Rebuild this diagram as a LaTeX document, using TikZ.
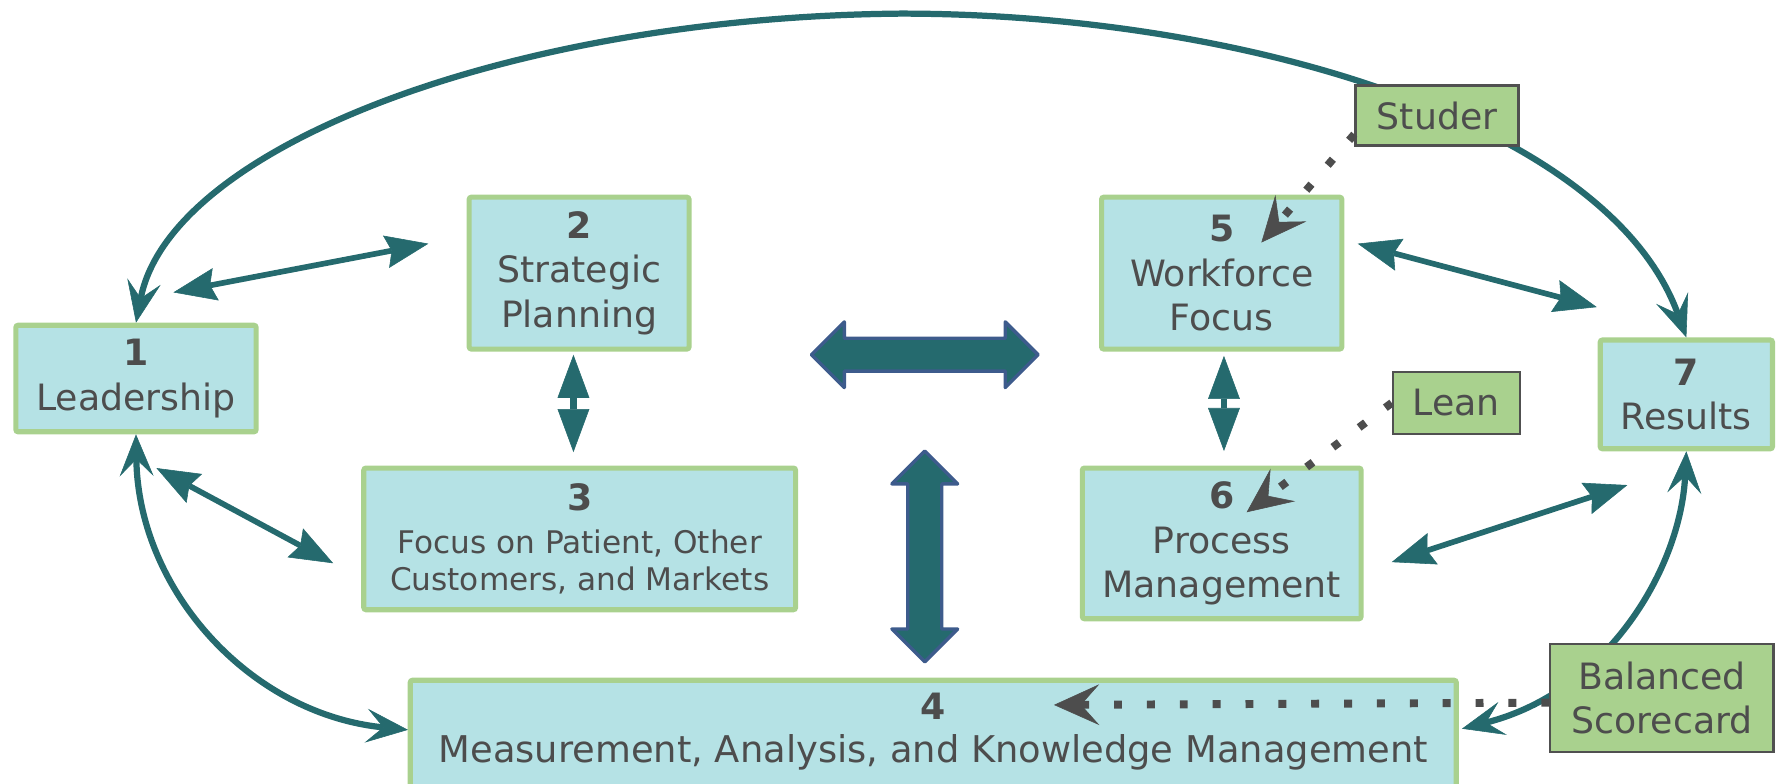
\documentclass[tikz,border=0pt]{standalone}
\usepackage{fontspec}
\setmainfont{DejaVu Sans}
\usetikzlibrary{arrows.meta,calc}
\definecolor{boxfill}{HTML}{B5E2E5}
\definecolor{boxline}{HTML}{A9D18E}
\definecolor{linkteal}{HTML}{256A6E}
\definecolor{tagfill}{HTML}{A9D18E}
\definecolor{tagline}{HTML}{505050}
\definecolor{ink}{HTML}{4D4D4D}
\definecolor{blockline}{HTML}{3D5B8C}
\begin{document}
\begin{tikzpicture}[x=1pt,y=-1pt,
  every node/.style={font=\fontsize{32}{39}\selectfont, text=ink, inner sep=0pt},
  areabox/.style={draw=boxline, line width=4.5pt, fill=boxfill, rounded corners=2pt, align=center},
  tagbox/.style={draw=tagline, line width=2pt, fill=tagfill, align=center},
  duallink/.style={draw=linkteal, line width=5pt, {Stealth[length=38pt,width=29pt,inset=5pt,line width=0.5pt]}-{Stealth[length=38pt,width=29pt,inset=5pt,line width=0.5pt]}},
  curvelink/.style={draw=linkteal, line width=5.5pt, {Stealth[length=37pt,width=30pt,inset=15pt,line width=0.5pt]}-{Stealth[length=37pt,width=30pt,inset=15pt,line width=0.5pt]}},
  twinhead/.style={draw=linkteal, line width=6pt, {Triangle[length=38pt,width=28pt,line width=0.5pt]}-{Triangle[length=38pt,width=28pt,line width=0.5pt]}},
  cue/.style={draw=ink, line width=7pt, dash pattern=on 7pt off 22pt, -{Stealth[length=40pt,width=36pt,inset=16pt,line width=0.5pt]}},
  blockarrow/.style={fill=linkteal, draw=blockline, line width=3pt, line join=round}
]
\useasboundingbox (0,0) rectangle (1568,691);
\clip (0,0) rectangle (1568,691);

% criteria boxes
\node[areabox, minimum width=212pt, minimum height=94pt] (b1) at (120,334) {{\bfseries 1}\\Leadership};
\node[areabox, minimum width=194pt, minimum height=134pt] (b2) at (511,241) {{\bfseries 2}\\Strategic\\Planning};
\node[areabox, minimum width=381pt, minimum height=125pt] (b3) at (511.5,475.5)
  {{\bfseries 3}\\[-1pt]{\fontsize{27.5}{32}\selectfont Focus on Patient, Other}\\[-7pt]{\fontsize{27.5}{32}\selectfont Customers, and Markets}};
\node[areabox, minimum width=923pt, minimum height=150pt, anchor=north] (b4) at (823.5,598) {};
\node[anchor=north, align=center] (b4t) at (823.5,611) {{\bfseries 4}\\[-1pt]{\fontsize{32.5}{39}\selectfont Measurement, Analysis, and Knowledge Management}};
\node[areabox, minimum width=212pt, minimum height=134pt] (b5) at (1078,241) {{\bfseries 5}\\Workforce\\Focus};
\node[areabox, minimum width=246pt, minimum height=133pt] (b6) at (1078,479.5) {{\bfseries 6}\\[1pt]Process\\Management};
\node[areabox, minimum width=152pt, minimum height=96pt] (b7) at (1488,348) {{\bfseries 7}\\Results};

% free ends of the straight links
\coordinate (e12a) at (153,258);  \coordinate (e12b) at (378,215);
\coordinate (e13a) at (138,413);  \coordinate (e13b) at (294,497);
\coordinate (e57a) at (1198,215); \coordinate (e57b) at (1409,271);
\coordinate (e67a) at (1228,496); \coordinate (e67b) at (1436,428);
\coordinate (v23a) at (506,313);  \coordinate (v23b) at (506,399);
\coordinate (v56a) at (1080,314); \coordinate (v56b) at (1080,398);
\coordinate (e14) at (360,644);   \coordinate (e47) at (1290,643);

% straight two-way links
\draw[duallink] (e12a) -- (e12b);
\draw[duallink] (e13a) -- (e13b);
\draw[duallink] (e57a) -- (e57b);
\draw[duallink] (e67a) -- (e67b);
\draw[twinhead] (v23a) -- (v23b);
\draw[twinhead] (v56a) -- (v56b);

% curved links
\draw[curvelink] (b1.north) .. controls (150,130) and (450,15) .. (795,12)
                 .. controls (1100,12) and (1420,110) .. (b7.north);
\draw[curvelink] (b1.south) .. controls (122,520) and (220,630) .. (e14);
\draw[curvelink] (b7.south) .. controls (1483,500) and (1420,610) .. (e47);

% central block arrows
\path[blockarrow] (716,313) -- (745,284) -- (745,298.5) -- (887,298.5) -- (887,284)
  -- (916,313) -- (887,342) -- (887,327.5) -- (745,327.5) -- (745,342) -- cycle;
\path[blockarrow] (816,398) -- (845,427) -- (831,427) -- (831,555) -- (845,555)
  -- (816,584) -- (787,555) -- (801,555) -- (801,427) -- (787,427) -- cycle;

% method tags
\node[tagbox, minimum width=144pt, minimum height=53pt] (studer) at (1268,102) {Studer};
\node[tagbox, minimum width=112pt, minimum height=55pt] (lean) at (1285,355.5) {Lean};
\node[tagbox, minimum width=197pt, minimum height=95pt] (bal) at (1466.5,616) {Balanced\\Scorecard};

% dotted pointers from the tags
\coordinate (c5tip) at (1113,214);
\coordinate (c6tip) at (1100,452);
\coordinate (c4tip) at (930,622);
\draw[cue] ($(studer.south west)+(0,-11)$) -- (c5tip);
\draw[cue] (lean.west) -- (c6tip);
\draw[cue] ($(bal.west)+(0,4)$) -- (c4tip);
\end{tikzpicture}
\end{document}
